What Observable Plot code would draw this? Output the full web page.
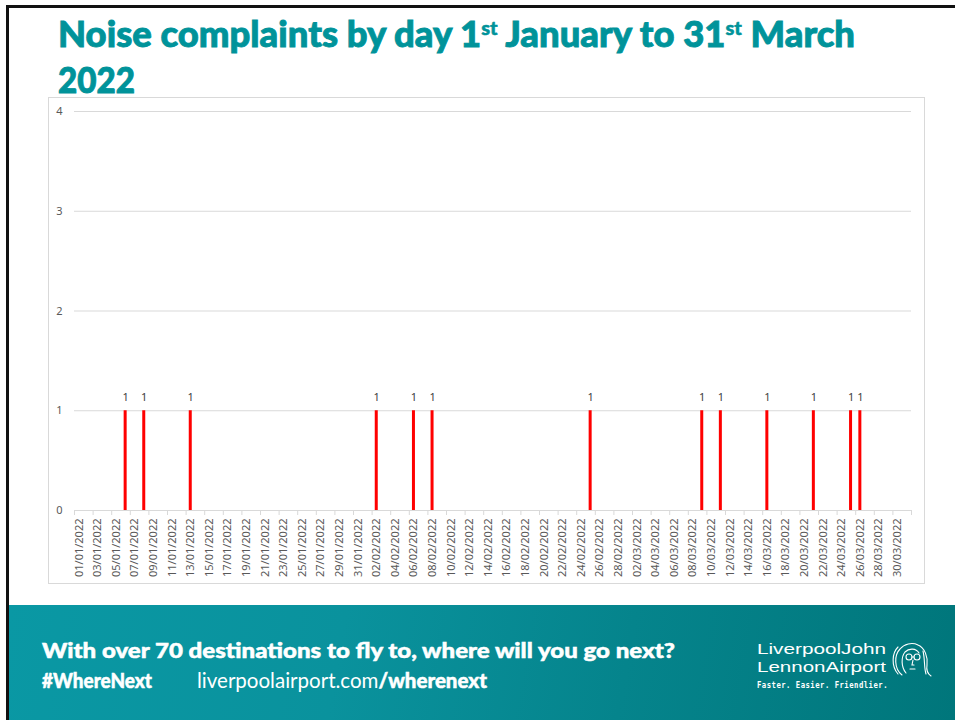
<!DOCTYPE html>
<html>
<head>
<meta charset="utf-8">
<script src="https://cdn.jsdelivr.net/npm/d3@7"></script>
<script src="https://cdn.jsdelivr.net/npm/@observablehq/plot@0.6"></script>
<style>
  html, body { margin: 0; padding: 0; background: #fff; }
  body { width: 955px; height: 720px; position: relative; overflow: hidden; font-family: "Noto Sans", sans-serif; }
  #frameTop { position: absolute; left: 6px; top: 5px; width: 949px; height: 3px; background: #111; }
  #frameLeft { position: absolute; left: 6px; top: 5px; width: 3px; height: 715px; background: #111; }
  .fit { position: absolute; white-space: nowrap; transform-origin: 0 0; line-height: 1; }
  .title { color: #00939a; font-family: "Lato", "Open Sans", sans-serif; font-weight: 900; font-size: 36px; -webkit-text-stroke: 0.9px #00939a; }
  .title sup { font-size: 0.55em; vertical-align: 0; position: relative; top: -0.62em; -webkit-text-stroke: 0.5px #00939a; }
  #chartBox { position: absolute; left: 48px; top: 97px; width: 877px; height: 487px; border: 1px solid #d9d9d9; box-sizing: border-box; }
  #chart { position: absolute; left: 48px; top: 97px; }
  #footer { position: absolute; left: 9px; top: 605px; width: 946px; height: 115px;
    background: linear-gradient(100deg, #0a98a4 0%, #0a929d 35%, #05848c 65%, #00767b 100%); }
  .foot { color: #fff; font-family: "Lato", "Open Sans", sans-serif; }
  .heavy { font-weight: 900; -webkit-text-stroke: 0.5px #fff; }
  .logo { color: #fff; font-family: "Liberation Sans", sans-serif; line-height: 1.117; }
</style>
</head>
<body>
<div id="frameTop"></div>
<div id="frameLeft"></div>
<div id="chartBox"></div>
<div id="chart"></div>
<div id="footer"></div>

<div class="fit title" id="t1" data-w="797" style="left:58px; top:15px;">Noise complaints by day 1<sup>st</sup> January to 31<sup>st</sup> March</div>
<div class="fit title" id="t2" data-w="77" style="left:58px; top:61px;">2022</div>

<div class="fit foot heavy" data-w="633" style="left:42px; top:639px; font-size:21px;">With over 70 destinations to fly to, where will you go next?</div>
<div class="fit foot heavy" data-w="110" style="left:42px; top:669px; font-size:21px;">#WhereNext</div>
<div class="fit foot" data-w="290" style="left:197px; top:669px; font-size:21px;"><span style="font-weight:400">liverpoolairport.com</span><span class="heavy">/wherenext</span></div>

<div class="fit logo" data-w="129" style="left:757px; top:640px; font-size:15.5px; font-weight:400;">LiverpoolJohn</div>
<div class="fit logo" data-w="129" style="left:757px; top:657.6px; font-size:15.5px; font-weight:400;">LennonAirport</div>
<div class="fit logo" data-w="131" style="left:757px; top:681px; font-size:9px; font-weight:700; letter-spacing:0.6px; font-family:'DejaVu Sans Mono', monospace; line-height:1;">Faster. Easier. Friendlier.</div>
<svg style="position:absolute; left:888px; top:641px;" width="46" height="38" viewBox="0 0 46 38" fill="none" stroke="#fff" stroke-width="1.1" stroke-linecap="round">
  <path d="M14 34 C6 28 6 14 12 8 C16 3 24 1 30 4 C37 7 40 16 39 24 C38 30 40 33 43 35"/>
  <path d="M10 33 C3 25 4 12 10 6"/>
  <path d="M18 32 C13 26 13 16 17 11 C21 7 28 7 31 12"/>
  <path d="M35 10 C37 18 36 27 38 33"/>
  <circle cx="21" cy="16" r="3"/>
  <circle cx="29" cy="16" r="3"/>
  <path d="M24 16 L26 16"/>
  <path d="M25 19 L24 24 L26 24"/>
  <path d="M22 28 L27 28"/>
</svg>

<script>
// ---- data ----
const days = [
  "01/01/2022","02/01/2022","03/01/2022","04/01/2022","05/01/2022","06/01/2022","07/01/2022","08/01/2022","09/01/2022","10/01/2022",
  "11/01/2022","12/01/2022","13/01/2022","14/01/2022","15/01/2022","16/01/2022","17/01/2022","18/01/2022","19/01/2022","20/01/2022",
  "21/01/2022","22/01/2022","23/01/2022","24/01/2022","25/01/2022","26/01/2022","27/01/2022","28/01/2022","29/01/2022","30/01/2022",
  "31/01/2022",
  "01/02/2022","02/02/2022","03/02/2022","04/02/2022","05/02/2022","06/02/2022","07/02/2022","08/02/2022","09/02/2022","10/02/2022",
  "11/02/2022","12/02/2022","13/02/2022","14/02/2022","15/02/2022","16/02/2022","17/02/2022","18/02/2022","19/02/2022","20/02/2022",
  "21/02/2022","22/02/2022","23/02/2022","24/02/2022","25/02/2022","26/02/2022","27/02/2022","28/02/2022",
  "01/03/2022","02/03/2022","03/03/2022","04/03/2022","05/03/2022","06/03/2022","07/03/2022","08/03/2022","09/03/2022","10/03/2022",
  "11/03/2022","12/03/2022","13/03/2022","14/03/2022","15/03/2022","16/03/2022","17/03/2022","18/03/2022","19/03/2022","20/03/2022",
  "21/03/2022","22/03/2022","23/03/2022","24/03/2022","25/03/2022","26/03/2022","27/03/2022","28/03/2022","29/03/2022","30/03/2022",
  "31/03/2022"
];
const tickLabels = [
  "01/01/2022","03/01/2022","05/01/2022","07/01/2022","09/01/2022","11/01/2022","13/01/2022","15/01/2022","17/01/2022","19/01/2022",
  "21/01/2022","23/01/2022","25/01/2022","27/01/2022","29/01/2022","31/01/2022",
  "02/02/2022","04/02/2022","06/02/2022","08/02/2022","10/02/2022","12/02/2022","14/02/2022","16/02/2022","18/02/2022","20/02/2022",
  "22/02/2022","24/02/2022","26/02/2022","28/02/2022",
  "02/03/2022","04/03/2022","06/03/2022","08/03/2022","10/03/2022","12/03/2022","14/03/2022","16/03/2022","18/03/2022","20/03/2022",
  "22/03/2022","24/03/2022","26/03/2022","28/03/2022","30/03/2022"
];
const lastDay = ["31/03/2022"];
const complaintDays = [
  "06/01/2022","08/01/2022","13/01/2022",
  "02/02/2022","06/02/2022","08/02/2022","25/02/2022",
  "09/03/2022","11/03/2022","16/03/2022","21/03/2022","25/03/2022","26/03/2022"
];
const complaintCounts = [1,1,1, 1,1,1,1, 1,1,1,1,1,1];
const yTicks = [0,1,2,3,4];

const rows = complaintDays.map((d, i) => ({day: d, count: complaintCounts[i]}));

// ---- layout ----
const W = 877, H = 487, mL = 26, mR = 14, mT = 14, mB = 74;
const bw = (W - mL - mR) / days.length;

const chart = Plot.plot({
  width: W, height: H,
  marginLeft: mL, marginRight: mR, marginTop: mT, marginBottom: mB,
  style: { fontFamily: "'Noto Sans', sans-serif", fontSize: "11px", color: "#595959", background: "transparent", overflow: "visible" },
  x: { type: "band", domain: days, padding: 0, round: false },
  y: { domain: [0, 4] },
  marks: [
    Plot.ruleY(yTicks, { stroke: "#d9d9d9", strokeWidth: 1 }),
    Plot.axisY(yTicks, { tickSize: 0, tickPadding: 12, label: null, fill: "#595959", tickFormat: d3.format("d") }),
    Plot.axisX(tickLabels, { tickSize: 0, tickPadding: 8, tickRotate: -90, label: null, fill: "#595959" }),
    Plot.axisX(tickLabels, { tickSize: 5, fill: "none", dx: -bw / 2, stroke: "#d9d9d9", label: null }),
    Plot.axisX(lastDay, { tickSize: 5, fill: "none", dx: bw / 2, stroke: "#d9d9d9", label: null }),
    Plot.barY(rows, { x: "day", y: "count", fill: "#ff0000", insetLeft: (bw - 3) / 2, insetRight: (bw - 3) / 2 }),
    Plot.text(rows, { x: "day", y: "count", text: d => String(d.count), dy: -13, fill: "#404040", fontSize: 11 })
  ]
});
document.getElementById("chart").appendChild(chart);

// fit text widths
document.querySelectorAll(".fit").forEach(el => {
  const target = +el.dataset.w;
  const w = el.getBoundingClientRect().width;
  if (w > 0) el.style.transform = `scaleX(${target / w})`;
});
</script>
</body>
</html>
